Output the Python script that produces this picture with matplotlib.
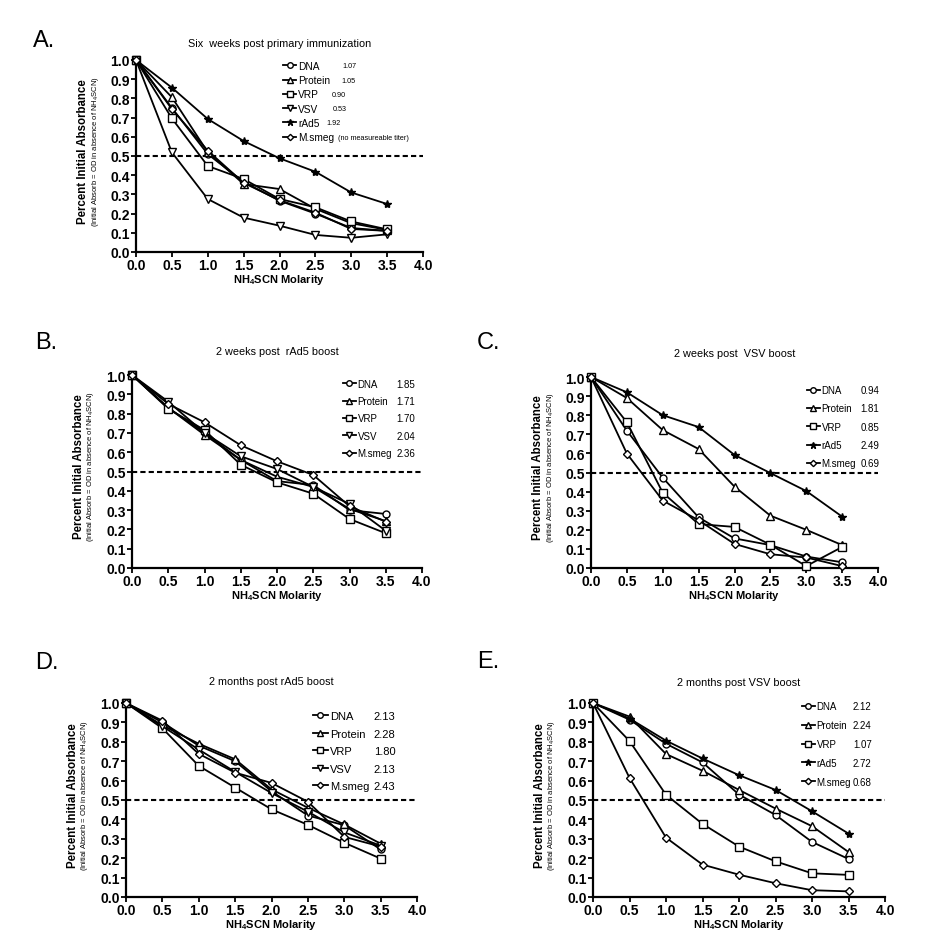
import numpy as np
import matplotlib
matplotlib.use('Agg')
import matplotlib.pyplot as plt

plt.rcParams['font.family'] = ['Liberation Sans', 'DejaVu Sans']
plt.rcParams['mathtext.fontset'] = 'custom'
plt.rcParams['mathtext.rm'] = 'Liberation Sans'
plt.rcParams['mathtext.bf'] = 'Liberation Sans:bold'

molarity = [0.0, 0.5, 1.0, 1.5, 2.0, 2.5, 3.0, 3.5]

# panel A - six weeks post primary immunization
a_names = ['DNA', 'Protein', 'VRP', 'VSV', 'rAd5', 'M.smeg']
a_notes = ['1.07', '1.05', '0.90', '0.53', '1.92', '(no measureable titer)']
a_dna = [1.0, 0.75, 0.51, 0.365, 0.267, 0.20, 0.125, 0.11]
a_protein = [1.0, 0.806, 0.52, 0.354, 0.328, 0.225, 0.15, 0.115]
a_vrp = [1.0, 0.696, 0.448, 0.38, 0.276, 0.233, 0.159, 0.118]
a_vsv = [1.0, 0.519, 0.276, 0.179, 0.137, 0.089, 0.074, 0.092]
a_rad5 = [1.0, 0.856, 0.693, 0.578, 0.488, 0.418, 0.31, 0.25]
a_msmeg = [1.0, 0.745, 0.528, 0.36, 0.27, 0.205, 0.12, 0.11]

# panel B - 2 weeks post rAd5 boost
b_names = ['DNA', 'Protein', 'VRP', 'VSV', 'M.smeg']
b_notes = ['1.85', '1.71', '1.70', '2.04', '2.36']
b_dna = [1.0, 0.83, 0.70, 0.56, 0.45, 0.43, 0.30, 0.28]
b_protein = [1.0, 0.83, 0.69, 0.56, 0.473, 0.42, 0.306, 0.243]
b_vrp = [1.0, 0.825, 0.715, 0.535, 0.444, 0.385, 0.254, 0.18]
b_vsv = [1.0, 0.862, 0.70, 0.579, 0.513, 0.42, 0.332, 0.193]
b_msmeg = [1.0, 0.85, 0.755, 0.636, 0.553, 0.482, 0.32, 0.24]

# panel C - 2 weeks post VSV boost
c_names = ['DNA', 'Protein', 'VRP', 'rAd5', 'M.smeg']
c_notes = ['0.94', '1.81', '0.85', '2.49', '0.69']
c_dna = [1.0, 0.719, 0.473, 0.265, 0.155, 0.12, 0.06, 0.03]
c_protein = [1.0, 0.89, 0.722, 0.623, 0.426, 0.274, 0.20, 0.12]
c_vrp = [1.0, 0.763, 0.394, 0.23, 0.215, 0.122, 0.01, 0.11]
c_rad5 = [1.0, 0.92, 0.80, 0.738, 0.592, 0.497, 0.403, 0.269]
c_msmeg = [1.0, 0.599, 0.353, 0.25, 0.126, 0.072, 0.055, 0.01]

# panel D - 2 months post rAd5 boost
d_names = ['DNA', 'Protein', 'VRP', 'VSV', 'M.smeg']
d_notes = ['2.13', '2.28', '1.80', '2.13', '2.43']
d_dna = [1.0, 0.90, 0.78, 0.70, 0.545, 0.42, 0.37, 0.245]
d_protein = [1.0, 0.885, 0.79, 0.71, 0.555, 0.46, 0.374, 0.275]
d_vrp = [1.0, 0.87, 0.676, 0.564, 0.452, 0.372, 0.28, 0.198]
d_vsv = [1.0, 0.88, 0.76, 0.645, 0.536, 0.44, 0.333, 0.265]
d_msmeg = [1.0, 0.909, 0.738, 0.641, 0.588, 0.491, 0.31, 0.26]

# panel E - 2 months post VSV boost
e_names = ['DNA', 'Protein', 'VRP', 'rAd5', 'M.smeg']
e_notes = ['2.12', '2.24', '1.07', '2.72', '0.68']
e_dna = [1.0, 0.914, 0.79, 0.694, 0.528, 0.423, 0.284, 0.196]
e_protein = [1.0, 0.93, 0.737, 0.651, 0.552, 0.456, 0.365, 0.232]
e_vrp = [1.0, 0.804, 0.527, 0.377, 0.26, 0.184, 0.122, 0.114]
e_rad5 = [1.0, 0.92, 0.806, 0.714, 0.628, 0.552, 0.442, 0.327]
e_msmeg = [1.0, 0.614, 0.306, 0.167, 0.115, 0.071, 0.035, 0.029]

styles = {
    'DNA': dict(marker='o', ms=5, mfc='white'),
    'Protein': dict(marker='^', ms=6, mfc='white'),
    'VRP': dict(marker='s', ms=6, mfc='white'),
    'VSV': dict(marker='v', ms=6, mfc='white'),
    'rAd5': dict(marker='*', ms=6, mfc='black'),
    'M.smeg': dict(marker='D', ms=4, mfc='white'),
}

panels = [
    dict(letter='A.', title='Six  weeks post primary immunization',
         names=a_names, notes=a_notes,
         series=[a_dna, a_protein, a_vrp, a_vsv, a_rad5, a_msmeg],
         rect=(136, 61, 423, 253), letter_xy=(33, 41), title_y=1.089,
         leg_xy=(0.512, 0.995), leg_fs=7.3, leg_sp=0.42, note_fs=5.2,
         note_x=[0.718, 0.714, 0.683, 0.686, 0.662, 0.704]),
    dict(letter='B.', title='2 weeks post  rAd5 boost',
         names=b_names, notes=b_notes,
         series=[b_dna, b_protein, b_vrp, b_vsv, b_msmeg],
         rect=(132, 376, 422, 569), letter_xy=(35, 343), title_y=1.124,
         leg_xy=(0.728, 0.98), leg_fs=7.0, leg_sp=0.75, note_fs=7.0,
         note_x=[0.913] * 5),
    dict(letter='C.', title='2 weeks post  VSV boost',
         names=c_names, notes=c_notes,
         series=[c_dna, c_protein, c_vrp, c_rad5, c_msmeg],
         rect=(591, 378, 878, 569), letter_xy=(477, 343), title_y=1.126,
         leg_xy=(0.753, 0.958), leg_fs=7.0, leg_sp=0.86, note_fs=7.0,
         note_x=[0.94] * 5),
    dict(letter='D.', title='2 months post rAd5 boost',
         names=d_names, notes=d_notes,
         series=[d_dna, d_protein, d_vrp, d_vsv, d_msmeg],
         rect=(126, 704, 417, 898), letter_xy=(35, 663), title_y=1.113,
         leg_xy=(0.643, 0.958), leg_fs=8.0, leg_sp=0.68, note_fs=8.0,
         note_x=[0.852] * 5),
    dict(letter='E.', title='2 months post VSV boost',
         names=e_names, notes=e_notes,
         series=[e_dna, e_protein, e_vrp, e_rad5, e_msmeg],
         rect=(593, 704, 885, 898), letter_xy=(477, 662), title_y=1.108,
         leg_xy=(0.716, 1.01), leg_fs=7.0, leg_sp=0.92, note_fs=7.0,
         note_x=[0.89] * 5),
]

W, H = 930, 945
fig = plt.figure(figsize=(W / 100, H / 100), dpi=100)

axes = []
for p in panels:
    x0, y0, x1, y1 = p['rect']
    ax = fig.add_axes([x0 / W, 1 - y1 / H, (x1 - x0) / W, (y1 - y0) / H])
    for name, vals in zip(p['names'], p['series']):
        ax.plot(molarity, vals, color='black', lw=1.3, mec='black', mew=1.0,
                label=name, clip_on=False, zorder=3, **styles[name])
    ax.axhline(0.5, color='black', lw=1.5, ls=(0, (2.5, 1.5)), zorder=2)
    ax.set_xlim(0, 4)
    ax.set_ylim(0, 1)
    ax.set_xticks(np.arange(0, 4.01, 0.5))
    ax.set_yticks(np.arange(0, 1.01, 0.1))
    ax.xaxis.set_major_formatter(plt.FormatStrFormatter('%.1f'))
    ax.yaxis.set_major_formatter(plt.FormatStrFormatter('%.1f'))
    for s in ['top', 'right']:
        ax.spines[s].set_visible(False)
    for s in ['left', 'bottom']:
        ax.spines[s].set_linewidth(1.6)
    ax.tick_params(direction='out', length=3.5, width=1.3, pad=1,
                   labelsize=10)
    for lab in ax.get_xticklabels() + ax.get_yticklabels():
        lab.set_fontweight('bold')
    ax.set_xlabel(r'NH$_\mathbf{4}$SCN Molarity', fontsize=8, fontweight='bold',
                  labelpad=0)
    ax.text(-0.183, 0.53, 'Percent Initial Absorbance', transform=ax.transAxes,
            rotation=90, ha='center', va='center', fontsize=8.3,
            fontweight='bold')
    ax.text(-0.142, 0.53, r'(Initial Absorb = OD in absence of NH$_4$SCN)',
            transform=ax.transAxes, rotation=90, ha='center', va='center',
            fontsize=5.5)
    ax.text(0.5, p['title_y'], p['title'], transform=ax.transAxes,
            ha='center', va='center', fontsize=7.8)
    fig.text(p['letter_xy'][0] / W, 1 - p['letter_xy'][1] / H, p['letter'],
             ha='left', va='center', fontsize=17)
    leg = ax.legend(loc='upper left', bbox_to_anchor=p['leg_xy'], frameon=False,
                    fontsize=p['leg_fs'], handlelength=1.3, handletextpad=0.2,
                    labelspacing=p['leg_sp'], borderpad=0, borderaxespad=0,
                    markerscale=0.8)
    axes.append((ax, leg, p))

fig.canvas.draw()
for ax, leg, p in axes:
    inv = ax.transAxes.inverted()
    for t, note, nx in zip(leg.get_texts(), p['notes'], p['note_x']):
        bb = t.get_window_extent()
        yc = inv.transform((0, (bb.y0 + bb.y1) / 2))[1]
        ax.text(nx, yc, note, transform=ax.transAxes, ha='left', va='center',
                fontsize=p['note_fs'])

fig.savefig('out.png', dpi=100, facecolor='white')
plt.close()
